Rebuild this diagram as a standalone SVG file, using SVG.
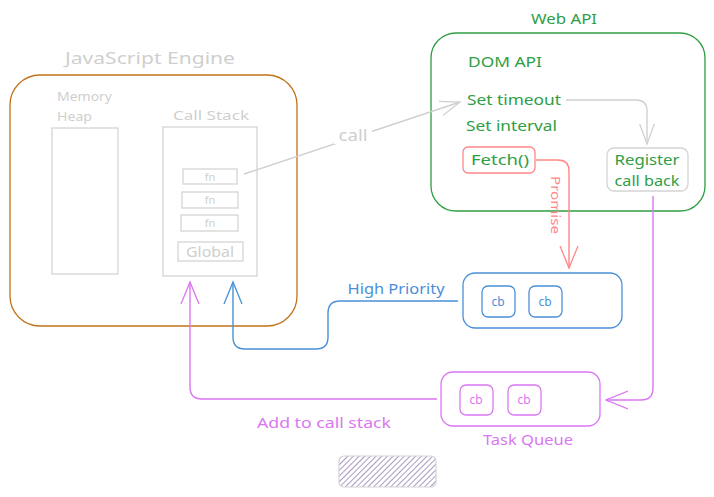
<svg xmlns="http://www.w3.org/2000/svg" width="714" height="497" viewBox="0 0 714 497">
<defs>
<style>
text{font-family:"Noto Sans","Liberation Sans",sans-serif;}
.gray{fill:#cfcfcf;}
.green{fill:#2f9e44;}
.blue{fill:#4a90d9;}
.violet{fill:#da77f2;}
.red{fill:#ff8787;}
.box{fill:none;stroke-width:1.3;}
.conn{fill:none;stroke-width:1.4;}
</style>
<marker id="ahGray" viewBox="0 0 24 24" refX="22" refY="12" markerWidth="22" markerHeight="22" orient="auto" markerUnits="userSpaceOnUse">
<path d="M0,4 L22,12 L0,20" fill="none" stroke="#d0d0d0" stroke-width="1.4"/>
</marker>
<marker id="ahRed" viewBox="0 0 24 24" refX="22" refY="12" markerWidth="24" markerHeight="24" orient="auto" markerUnits="userSpaceOnUse">
<path d="M0,3 L22,12 L0,21" fill="none" stroke="#ff8787" stroke-width="1.3"/>
</marker>
<marker id="ahBlue" viewBox="0 0 24 24" refX="22" refY="12" markerWidth="24" markerHeight="24" orient="auto" markerUnits="userSpaceOnUse">
<path d="M0,3 L22,12 L0,21" fill="none" stroke="#4a90d9" stroke-width="1.3"/>
</marker>
<marker id="ahViolet" viewBox="0 0 24 24" refX="22" refY="12" markerWidth="24" markerHeight="24" orient="auto" markerUnits="userSpaceOnUse">
<path d="M0,3 L22,12 L0,21" fill="none" stroke="#da77f2" stroke-width="1.3"/>
</marker>
<pattern id="hatch" patternUnits="userSpaceOnUse" width="4" height="4" patternTransform="rotate(45)">
<line x1="0" y1="0" x2="0" y2="4" stroke="#8060a0" stroke-width="1.3"/>
</pattern>
</defs>
<rect width="714" height="497" fill="#ffffff"/>

<g id="js-engine">
<text x="150" y="64" class="gray" font-size="17" text-anchor="middle" textLength="170" lengthAdjust="spacingAndGlyphs">JavaScript Engine</text>
<rect x="10" y="75" width="287" height="251" rx="30" class="box" stroke="#c2721a" stroke-width="1.5"/>
</g>
<g id="memory-heap">
<text x="57" y="101" class="gray" font-size="13" textLength="55" lengthAdjust="spacingAndGlyphs">Memory</text>
<text x="57" y="121" class="gray" font-size="13" textLength="35" lengthAdjust="spacingAndGlyphs">Heap</text>
<rect x="52" y="128" width="66" height="146" class="box" stroke="#d4d4d4"/>
</g>
<g id="call-stack">
<text x="211" y="120" class="gray" font-size="13" text-anchor="middle" textLength="76" lengthAdjust="spacingAndGlyphs">Call Stack</text>
<rect x="163" y="127" width="94" height="149" class="box" stroke="#d4d4d4"/>
</g>
<g id="fn1"><rect x="183" y="169" width="54" height="15" class="box" stroke="#d4d4d4"/><text x="210" y="181" class="gray" font-size="11" text-anchor="middle">fn</text></g>
<g id="fn2"><rect x="182" y="192" width="56" height="16" class="box" stroke="#d4d4d4"/><text x="210" y="204" class="gray" font-size="11" text-anchor="middle">fn</text></g>
<g id="fn3"><rect x="181" y="215" width="57" height="16" class="box" stroke="#d4d4d4"/><text x="210" y="227" class="gray" font-size="11" text-anchor="middle">fn</text></g>
<g id="global"><rect x="178" y="242" width="65" height="19" class="box" stroke="#d4d4d4"/><text x="210" y="257" class="gray" font-size="14" text-anchor="middle" textLength="48" lengthAdjust="spacingAndGlyphs">Global</text></g>

<g id="web-api">
<text x="564" y="24" class="green" font-size="14" text-anchor="middle" textLength="66" lengthAdjust="spacingAndGlyphs">Web API</text>
<rect x="431" y="33" width="274" height="178" rx="25" class="box" stroke="#2f9e44" stroke-width="1.4"/>
<text x="468" y="67" class="green" font-size="14" textLength="74" lengthAdjust="spacingAndGlyphs">DOM API</text>
<text x="467" y="105" class="green" font-size="14" textLength="94" lengthAdjust="spacingAndGlyphs">Set timeout</text>
<text x="466" y="131" class="green" font-size="14" textLength="91" lengthAdjust="spacingAndGlyphs">Set interval</text>
</g>
<g id="fetch">
<rect x="463" y="147" width="72" height="26" rx="5" class="box" stroke="#ff8787"/>
<text x="500" y="165" class="green" font-size="14" text-anchor="middle" textLength="58" lengthAdjust="spacingAndGlyphs">Fetch()</text>
</g>
<g id="register">
<rect x="607" y="148" width="81" height="43" rx="7" class="box" stroke="#d4d4d4"/>
<text x="647" y="165" class="green" font-size="14" text-anchor="middle" textLength="65" lengthAdjust="spacingAndGlyphs">Register</text>
<text x="647" y="186" class="green" font-size="14" text-anchor="middle" textLength="65" lengthAdjust="spacingAndGlyphs">call back</text>
</g>

<g id="microtask-queue">
<rect x="463" y="273" width="159" height="55" rx="12" class="box" stroke="#4a90d9"/>
<rect x="482" y="286" width="33" height="31" rx="6" class="box" stroke="#4a90d9"/>
<text x="498" y="306" class="blue" font-size="12" text-anchor="middle">cb</text>
<rect x="529" y="286" width="33" height="31" rx="6" class="box" stroke="#4a90d9"/>
<text x="545" y="306" class="blue" font-size="12" text-anchor="middle">cb</text>
</g>
<g id="task-queue">
<rect x="441" y="372" width="159" height="54" rx="12" class="box" stroke="#da77f2"/>
<rect x="460" y="385" width="33" height="30" rx="6" class="box" stroke="#da77f2"/>
<text x="476" y="404" class="violet" font-size="12" text-anchor="middle">cb</text>
<rect x="508" y="385" width="33" height="30" rx="6" class="box" stroke="#da77f2"/>
<text x="524" y="404" class="violet" font-size="12" text-anchor="middle">cb</text>
<text x="528" y="445" class="violet" font-size="14" text-anchor="middle" textLength="90" lengthAdjust="spacingAndGlyphs">Task Queue</text>
</g>

<g id="event-loop">
<rect x="339" y="456" width="97" height="31" rx="5" fill="url(#hatch)" stroke="#d4d4d4" stroke-width="1.2"/>
</g>

<g id="connectors">
<path d="M244,174 L460,102" class="conn" stroke="#d0d0d0" marker-end="url(#ahGray)"/>
<rect x="334" y="124" width="38" height="20" fill="#ffffff"/>
<text x="353" y="141" class="gray" font-size="16" text-anchor="middle" textLength="29" lengthAdjust="spacingAndGlyphs">call</text>

<path d="M566,100 L636,100 Q647,100 647,111 L647,144" class="conn" stroke="#d0d0d0" marker-end="url(#ahGray)"/>

<path d="M536,160 L558,160 Q569,160 569,171 L569,268" class="conn" stroke="#ff8787" marker-end="url(#ahRed)"/>
<text transform="translate(551,176) rotate(90)" class="red" font-size="13" textLength="58" lengthAdjust="spacingAndGlyphs">Promise</text>

<path d="M458,301 L340,301 Q328,301 328,313 L328,337 Q328,349 316,349 L245,349 Q233,349 233,337 L233,282" class="conn" stroke="#4a90d9" marker-end="url(#ahBlue)"/>
<text x="396" y="294" class="blue" font-size="14" text-anchor="middle" textLength="97" lengthAdjust="spacingAndGlyphs">High Priority</text>

<path d="M653,196 L653,388 Q653,400 641,400 L606,400" class="conn" stroke="#da77f2" marker-end="url(#ahViolet)"/>

<path d="M437,399 L202,399 Q190,399 190,387 L190,282" class="conn" stroke="#da77f2" marker-end="url(#ahViolet)"/>
<text x="324" y="428" class="violet" font-size="14" text-anchor="middle" textLength="134" lengthAdjust="spacingAndGlyphs">Add to call stack</text>
</g>
</svg>
